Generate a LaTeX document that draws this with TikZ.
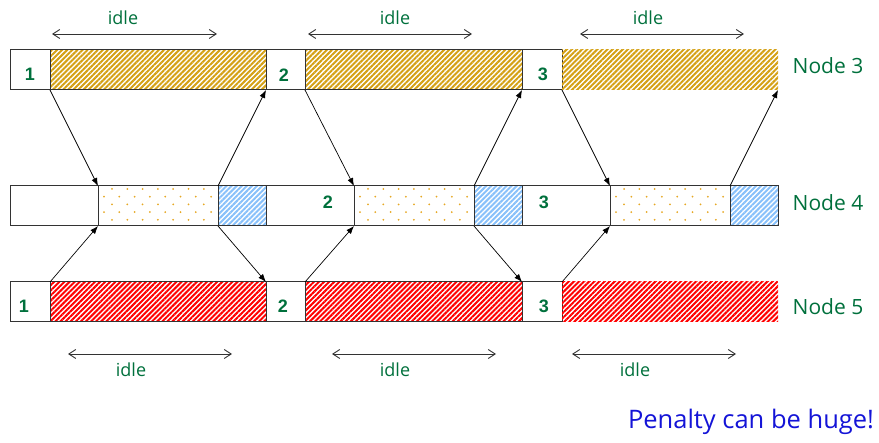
\documentclass[tikz,border=0pt]{standalone}
\usepackage{fontspec}
\setmainfont{Open Sans}
\newfontfamily\numfont{Liberation Sans}
\usetikzlibrary{arrows.meta,patterns.meta}
\definecolor{lblgreen}{RGB}{0,112,60}
\definecolor{hatchgold}{RGB}{212,160,20}
\definecolor{hatchblue}{RGB}{135,192,250}
\definecolor{dotgold}{RGB}{230,168,36}
\definecolor{penblue}{RGB}{20,20,215}

% dotted filling of a busy slot on node 4
\newcommand{\sprinkle}[1]{%
  \foreach \i in {0,...,6}
    \foreach \j in {0,2,4}
      \fill[dotgold] ([shift={(14+\i*15.3,3+\j*7.7)}]#1.north west) circle (1pt);
  \foreach \i in {0,...,7}
    \foreach \j in {1,3}
      \fill[dotgold] ([shift={(6+\i*15.3,3+\j*7.7)}]#1.north west) circle (1pt);
}

\tikzset{
  slot/.style={rectangle,draw=black!80,line width=1pt,inner sep=0pt,outer sep=0pt,
               minimum height=40pt,anchor=north west},
  goldhatch/.style={pattern={Lines[angle=45,distance=3.6pt,line width=2pt]},pattern color=hatchgold},
  redhatch/.style={pattern={Lines[angle=45,distance=3.6pt,line width=2pt]},pattern color=red},
  bluehatch/.style={pattern={Lines[angle=45,distance=3.6pt,line width=2pt]},pattern color=hatchblue},
  num/.style={font=\numfont\bfseries\fontsize{18}{18}\selectfont,text=lblgreen,inner sep=0pt},
  idle/.style={font=\fontsize{18}{18}\selectfont,text=lblgreen,inner sep=0pt},
  host/.style={font=\fontsize{21}{21}\selectfont,text=lblgreen,inner sep=0pt},
  msg/.style={-{Latex[length=8pt,width=6pt]},line width=0.7pt},
  span/.style={{Straight Barb[length=7pt,width=9pt]}-{Straight Barb[length=7pt,width=9pt]},
               line width=0.9pt,draw=black!80},
}

\begin{document}
\begin{tikzpicture}[x=1pt,y=-1pt]
  \useasboundingbox (0,0) rectangle (879,443);

  % node 3
  \node[slot,minimum width=40pt] (t1) at (10,50) {};
  \node[slot,goldhatch,minimum width=216pt] (ti1) at (50,50) {};
  \node[slot,minimum width=39pt] (t2) at (266,50) {};
  \node[slot,goldhatch,minimum width=217pt] (ti2) at (305,50) {};
  \node[slot,minimum width=40pt] (t3) at (522,50) {};
  \node[slot,goldhatch,draw=none,minimum width=216pt] (ti3) at (562,50) {};

  % node 4
  \node[slot,minimum width=88pt] (m1) at (10,186) {};
  \node[slot,minimum width=120pt] (mw1) at (98,186) {};
  \node[slot,bluehatch,minimum width=48pt] (mb1) at (218,186) {};
  \node[slot,minimum width=88pt] (m2) at (266,186) {};
  \node[slot,minimum width=120pt] (mw2) at (354,186) {};
  \node[slot,bluehatch,minimum width=48pt] (mb2) at (474,186) {};
  \node[slot,minimum width=88pt] (m3) at (522,186) {};
  \node[slot,minimum width=120pt] (mw3) at (610,186) {};
  \node[slot,bluehatch,minimum width=48pt] (mb3) at (730,186) {};
  \sprinkle{mw1}
  \sprinkle{mw2}
  \sprinkle{mw3}

  % node 5
  \node[slot,minimum width=40pt] (b1) at (10,282) {};
  \node[slot,redhatch,minimum width=216pt] (bi1) at (50,282) {};
  \node[slot,minimum width=39pt] (b2) at (266,282) {};
  \node[slot,redhatch,minimum width=217pt] (bi2) at (305,282) {};
  \node[slot,minimum width=40pt] (b3) at (522,282) {};
  \node[slot,redhatch,draw=none,minimum width=216pt] (bi3) at (562,282) {};

  % step numbers
  \node[num] (nt1) at (30,74.5) {1};
  \node[num] (nt2) at (284,75) {2};
  \node[num] (nt3) at (543,74.5) {3};
  \node[num] (nm2) at (328,202.5) {2};
  \node[num] (nm3) at (544,202.5) {3};
  \node[num] (nb1) at (24,306.5) {1};
  \node[num] (nb2) at (283,306) {2};
  \node[num] (nb3) at (544,306) {3};

  \node[host] (h3) at (828,66) {Node 3};
  \node[host] (h4) at (828,203) {Node 4};
  \node[host] (h5) at (828,307) {Node 5};

  % messages between the nodes
  \draw[msg] (t1.south east) -- (mw1.north west);
  \draw[msg] (mb1.north west) -- (t2.south west);
  \draw[msg] (t2.south east) -- (mw2.north west);
  \draw[msg] (mb2.north west) -- (t3.south west);
  \draw[msg] (t3.south east) -- (mw3.north west);
  \draw[msg] (mb3.north west) -- (ti3.south east);
  \draw[msg] (b1.north east) -- (mw1.south west);
  \draw[msg] (mb1.south west) -- (b2.north west);
  \draw[msg] (b2.north east) -- (mw2.south west);
  \draw[msg] (mb2.south west) -- (b3.north west);
  \draw[msg] (b3.north east) -- (mw3.south west);

  % idle spans
  \coordinate (ua1) at (52,34);   \coordinate (ub1) at (217,34);
  \coordinate (ua2) at (308,34);  \coordinate (ub2) at (472,34);
  \coordinate (ua3) at (580,34);  \coordinate (ub3) at (744,34);
  \coordinate (da1) at (68,354);  \coordinate (db1) at (232,354);
  \coordinate (da2) at (332,354); \coordinate (db2) at (496,354);
  \coordinate (da3) at (572,354); \coordinate (db3) at (736,354);
  \draw[span] (ua1) -- (ub1);
  \draw[span] (ua2) -- (ub2);
  \draw[span] (ua3) -- (ub3);
  \draw[span] (da1) -- (db1);
  \draw[span] (da2) -- (db2);
  \draw[span] (da3) -- (db3);
  \node[idle] (iu1) at (123,18) {idle};
  \node[idle] (iu2) at (395,18) {idle};
  \node[idle] (iu3) at (648,18) {idle};
  \node[idle] (id1) at (131,370) {idle};
  \node[idle] (id2) at (395,370) {idle};
  \node[idle] (id3) at (635,370) {idle};

  \node[anchor=base,font=\fontsize{25.5}{25.5}\selectfont,text=penblue,inner sep=0pt] (pen) at (751,429)
    {Penalty can be huge!};
\end{tikzpicture}
\end{document}
